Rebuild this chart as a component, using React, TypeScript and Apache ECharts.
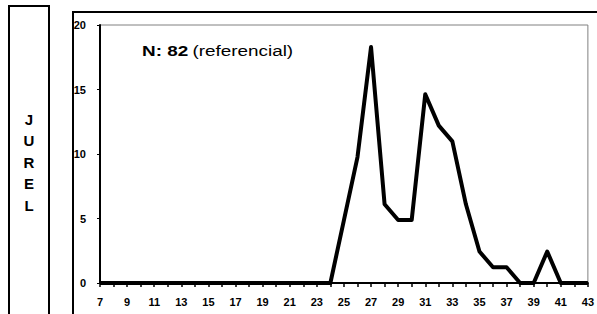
import React, { useEffect, useRef } from "react";
import * as echarts from "echarts";

const lengths = [7, 8, 9, 10, 11, 12, 13, 14, 15, 16, 17, 18, 19, 20, 21, 22, 23, 24, 25, 26, 27, 28, 29, 30, 31, 32, 33, 34, 35, 36, 37, 38, 39, 40, 41, 42, 43];
const percents = [0, 0, 0, 0, 0, 0, 0, 0, 0, 0, 0, 0, 0, 0, 0, 0, 0, 0, 4.88, 9.76, 18.29, 6.1, 4.88, 4.88, 14.63, 12.2, 10.98, 6.1, 2.44, 1.22, 1.22, 0, 0, 2.44, 0, 0, 0];
const yTicks = { min: 0, max: 20, interval: 5 };
const speciesLetters = ["J", "U", "R", "E", "L"];
const nLabel = "N: 82";
const noteLabel = "(referencial)";

export default function App() {
  const ref = useRef<HTMLDivElement>(null);
  useEffect(() => {
    if (!ref.current) return;
    const chart = echarts.init(ref.current, null, { renderer: "svg" });
    const font = "Arial, 'Liberation Sans', sans-serif";
    chart.setOption({
      animation: false,
      backgroundColor: "#ffffff",
      grid: {
        left: 100,
        top: 25,
        right: 8,
        bottom: 31,
        show: true,
        borderColor: "#808080",
        borderWidth: 1,
      },
      xAxis: {
        type: "value",
        min: 7,
        max: 43,
        interval: 1,
        axisLine: { show: true, onZero: false, lineStyle: { color: "#000", width: 2 } },
        axisTick: { show: true, length: 4, lineStyle: { color: "#000", width: 1.5 } },
        splitLine: { show: false },
        axisLabel: {
          margin: 13,
          fontFamily: font,
          fontWeight: "bold",
          fontSize: 11,
          color: "#000",
          formatter: (v: number) => (v % 2 === 1 ? String(v) : ""),
        },
      },
      yAxis: {
        type: "value",
        min: yTicks.min,
        max: yTicks.max,
        interval: yTicks.interval,
        axisLine: { show: true, lineStyle: { color: "#000", width: 2 } },
        axisTick: { show: true, length: 3, lineStyle: { color: "#000", width: 1 } },
        splitLine: { show: false },
        axisLabel: {
          margin: 14,
          fontFamily: font,
          fontWeight: "bold",
          fontSize: 11,
          color: "#000",
        },
      },
      series: [
        {
          type: "line",
          data: lengths.map((l, i) => [l, percents[i]]),
          showSymbol: false,
          symbol: "none",
          lineStyle: { color: "#000", width: 4, join: "round" },
          z: 5,
        },
      ],
      graphic: [
        {
          type: "rect",
          shape: { x: 9, y: 6, width: 40, height: 330 },
          style: { fill: "none", stroke: "#000", lineWidth: 2 },
          silent: true,
        },
        {
          type: "rect",
          shape: { x: 73, y: 12, width: 560, height: 330 },
          style: { fill: "none", stroke: "#000", lineWidth: 2 },
          silent: true,
        },
        {
          type: "text",
          x: 29,
          y: 162,
          style: {
            text: speciesLetters.join("\n"),
            fontFamily: font,
            fontWeight: "bold",
            fontSize: 15,
            lineHeight: 21.5,
            fill: "#000",
            align: "center",
            verticalAlign: "middle",
          },
        },
        {
          type: "text",
          x: 142,
          y: 51,
          scaleX: 1.26,
          style: {
            text: `{b|${nLabel}} {n|${noteLabel}}`,
            verticalAlign: "middle",
            rich: {
              b: { fontFamily: font, fontWeight: "bold", fontSize: 15, fill: "#000" },
              n: { fontFamily: font, fontWeight: "normal", fontSize: 15, fill: "#000" },
            },
          },
        },
      ],
    });
    return () => chart.dispose();
  }, []);
  return (
    <div
      ref={ref}
      style={{ position: "absolute", left: 0, top: 0, width: 597, height: 314 }}
    />
  );
}
